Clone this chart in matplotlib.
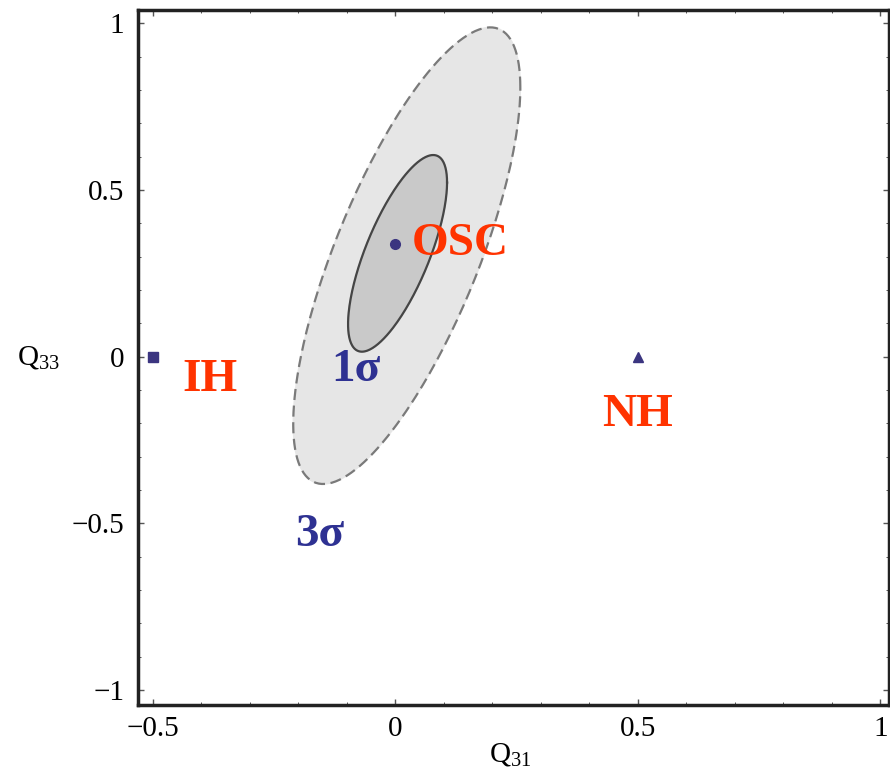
import numpy as np
import matplotlib
matplotlib.use("Agg")
import matplotlib.pyplot as plt
from matplotlib.ticker import MultipleLocator

plt.rcParams["font.family"] = ["Liberation Serif", "DejaVu Serif"]
plt.rcParams["mathtext.fontset"] = "custom"
plt.rcParams["mathtext.rm"] = "Liberation Serif"
plt.rcParams["mathtext.it"] = "Liberation Serif:italic"

# Hierarchy points (Q31, Q33)
punkt_namen = ["IH", "OSC", "NH"]
punkt_x = [-0.5, 0.0, 0.5]
punkt_y = [0.0, 0.338, 0.0]
punkt_marker = ["s", "o", "^"]

# Confidence ellipses: center, half extents, correlation
ell_namen = ["3sigma", "1sigma"]
ell_cx = [0.024, 0.005]
ell_cy = [0.303, 0.31]
ell_sx = [0.234, 0.102]
ell_sy = [0.685, 0.295]
ell_rho = [0.736, 0.72]

x_ticks = [-0.5, 0, 0.5, 1]
x_ticklabels = ["\u22120.5", "0", "0.5", "1"]
y_ticks = [-1, -0.5, 0, 0.5, 1]
y_ticklabels = ["\u22121", "\u22120.5", "0", "0.5", "1"]


def ellipse_punkte(cx, cy, sx, sy, rho, n=300):
    t = np.linspace(0, 2 * np.pi, n)
    u = np.cos(t)
    v = np.sin(t)
    x = cx + sx * u
    y = cy + sy * (rho * u + np.sqrt(1 - rho ** 2) * v)
    return x, y


fig = plt.figure(figsize=(8.9, 7.73), dpi=100)
ax = fig.add_axes([0.155, 0.088, 0.844, 0.899])

# 3 sigma (outer, dashed)
x3, y3 = ellipse_punkte(ell_cx[0], ell_cy[0], ell_sx[0], ell_sy[0], ell_rho[0])
ax.fill(x3, y3, color="#e6e6e6", zorder=1)
ax.plot(x3, y3, color="#7a7a7a", linestyle=(0, (5, 2.5)), linewidth=1.6, zorder=2)

# 1 sigma (inner, solid)
x1, y1 = ellipse_punkte(ell_cx[1], ell_cy[1], ell_sx[1], ell_sy[1], ell_rho[1])
ax.fill(x1, y1, color="#c9c9c9", zorder=3)
ax.plot(x1, y1, color="#454545", linewidth=1.6, zorder=4)

for px, py, m in zip(punkt_x, punkt_y, punkt_marker):
    ax.plot(px, py, marker=m, markersize=7, color="#3b3580",
            markeredgecolor="#3b3580", linestyle="none", zorder=5)

rot = "#ff3300"
blau = "#2e3192"
ax.text(0.035, 0.338, "OSC", color=rot, fontsize=34, fontweight="bold",
        ha="left", va="center", zorder=6)
ax.text(-0.381, -0.07, "IH", color=rot, fontsize=34, fontweight="bold",
        ha="center", va="center", zorder=6)
ax.text(0.5, -0.175, "NH", color=rot, fontsize=34, fontweight="bold",
        ha="center", va="center", zorder=6)
ax.text(-0.08, -0.04, "1\u03c3", color=blau, fontsize=34, fontweight="bold",
        ha="center", va="center", zorder=6)
ax.text(-0.155, -0.535, "3\u03c3", color=blau, fontsize=34, fontweight="bold",
        ha="center", va="center", zorder=6)

ax.set_xlim(-0.53, 1.018)
ax.set_ylim(-1.045, 1.04)

ax.set_xticks(x_ticks)
ax.set_xticklabels(x_ticklabels)
ax.set_yticks(y_ticks)
ax.set_yticklabels(y_ticklabels)
ax.xaxis.set_minor_locator(MultipleLocator(0.1))
ax.yaxis.set_minor_locator(MultipleLocator(0.1))
ax.tick_params(which="both", direction="in", top=True, right=True,
               labelsize=21, color="#555555")
ax.tick_params(which="major", length=4, width=1.0)
ax.tick_params(which="minor", length=2.5, width=0.7)
ax.tick_params(axis="x", pad=8)
ax.tick_params(axis="y", pad=10)

for s in ax.spines.values():
    s.set_linewidth(2.5)
    s.set_color("#222222")

fig.text(510 / 890, 1 - 755 / 773, r"$\mathrm{Q}_{31}$", fontsize=21,
         ha="center", va="center")
fig.text(38 / 890, 1 - 358 / 773, r"$\mathrm{Q}_{33}$", fontsize=21,
         ha="center", va="center")

fig.savefig("out.png", dpi=100)
